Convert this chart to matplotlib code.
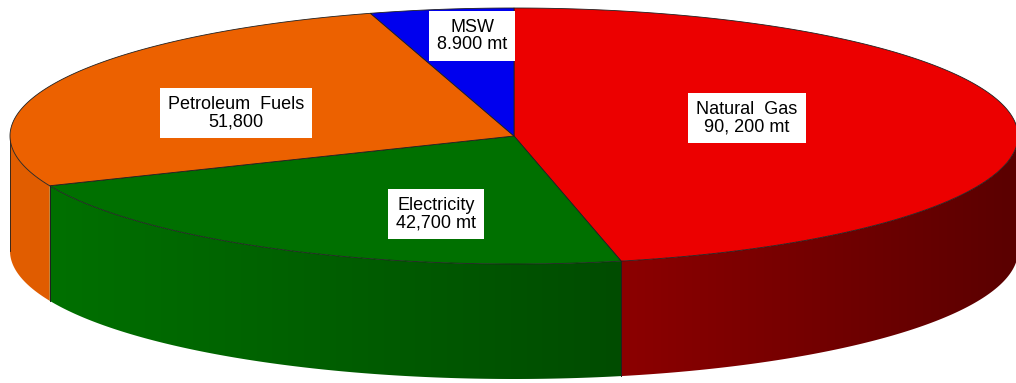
import numpy as np
import matplotlib
matplotlib.use("Agg")
from matplotlib import pyplot as plt
from matplotlib.patches import Polygon

plt.rcParams["font.family"] = ["Liberation Sans", "DejaVu Sans"]

# emissions by source, in slice order (clockwise from 12 o'clock)
sources = ["Natural Gas", "Electricity", "Petroleum Fuels", "MSW"]
values = [90200, 42700, 51800, 8900]
labels = ["Natural  Gas\n90, 200 mt", "Electricity\n42,700 mt",
          "Petroleum  Fuels\n51,800", "MSW\n8.900 mt"]
top_colors = ["#ec0000", "#007000", "#ec6100", "#0000ee"]
# side wall shading: (left colour, right colour)
side_colors = [("#8c0000", "#5a0000"), ("#007000", "#004c00"),
               ("#e25e00", "#e05c00"), ("#0000aa", "#000088")]
label_pos = [(747, 118), (436, 214), (236, 113), (472, 36)]

# ellipse geometry in pixels
cx, cy = 514, 136
a, b = 504, 128
depth = 115


def pt(t, dy=0):
    return cx + a * np.cos(t), cy - b * np.sin(t) + dy


fig = plt.figure(figsize=(10.16, 3.83), dpi=100)
ax = fig.add_axes([0, 0, 1, 1])
ax.set_xlim(0, 1016)
ax.set_ylim(383, 0)
ax.axis("off")

total = float(sum(values))
spans = []
start = np.pi / 2
for v in values:
    end = start - 2 * np.pi * v / total
    spans.append((start, end))
    start = end

# side walls, only the front half (angles between -pi and 0)
for i, (t0, t1) in enumerate(spans):
    lo = max(t1, -np.pi)
    hi = min(t0, 0.0)
    if lo >= hi:
        continue
    ts = np.linspace(hi, lo, 200)
    xs, ys = pt(ts)
    verts = list(zip(xs, ys)) + list(zip(xs[::-1], ys[::-1] + depth))
    wall = Polygon(verts, closed=True, facecolor="none",
                   edgecolor="none")
    ax.add_patch(wall)

    # horizontal gradient clipped to the wall outline
    x_min, x_max = xs.min(), xs.max()
    c_left = np.array(matplotlib.colors.to_rgb(side_colors[i][0]))
    c_right = np.array(matplotlib.colors.to_rgb(side_colors[i][1]))
    f = np.linspace(0, 1, 256)[None, :, None]
    grad = c_left + (c_right - c_left) * f
    im = ax.imshow(grad, extent=(x_min - 1, x_max + 1,
                                 ys.max() + depth + 1, ys.min() - 1),
                   aspect="auto", interpolation="bilinear", zorder=1)
    im.set_clip_path(wall)

    # vertical edges of this wall segment
    for t in (hi, lo):
        x0, y0 = pt(t)
        ax.plot([x0, x0], [y0, y0 + depth], color="#202020", lw=0.6,
                zorder=2)

ax.set_xlim(0, 1016)
ax.set_ylim(383, 0)

# top face
for i, (t0, t1) in enumerate(spans):
    ts = np.linspace(t0, t1, 200)
    xs, ys = pt(ts)
    verts = [(cx, cy)] + list(zip(xs, ys))
    ax.add_patch(Polygon(verts, closed=True, facecolor=top_colors[i],
                         edgecolor="#202020", linewidth=0.6, zorder=3))

for (x, y), text in zip(label_pos, labels):
    ax.text(x, y, text, ha="center", va="center", fontsize=13,
            linespacing=1.05, color="black", zorder=4,
            bbox=dict(boxstyle="square,pad=0.45", facecolor="white",
                      edgecolor="none"))

fig.savefig("out.png", dpi=100)
